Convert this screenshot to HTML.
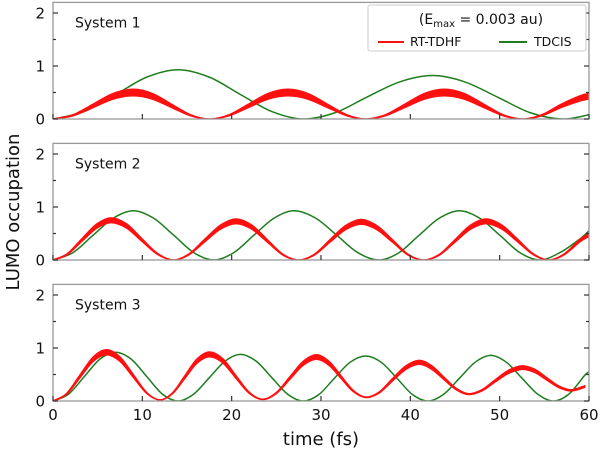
<!DOCTYPE html>
<html><head><meta charset="utf-8"><style>
html,body{margin:0;padding:0;background:#fff;}
svg{display:block;font-family:"DejaVu Sans","Liberation Sans",sans-serif;}
</style></head><body>
<svg id="chart" width="600" height="458" viewBox="0 0 600 458" xmlns="http://www.w3.org/2000/svg">
<text x="0" y="0" transform="translate(19,212) rotate(-90)" text-anchor="middle" font-size="18" fill="#111">LUMO occupation</text>
<text x="321" y="445" text-anchor="middle" font-size="18" fill="#111">time (fs)</text>
</svg>
<script>
// ---- data ----
const xTicks = [0,10,20,30,40,50,60];
const yTicks = [0,1,2];
const yMinorTicks = [0.5,1.5];
const panelLabels = ["System 1","System 2","System 3"];

const g1t = [0,3.5,7,10.5,14,17.5,21,24.5,28,31.6,35.1,38.8,42.5,46.1,49.8,53.4,57,60];
const g1v = [0,.14,.46,.79,.93,.79,.46,.14,0,.12,.41,.70,.82,.70,.41,.12,0,.08];
const r1t = [0,2.25,4.5,6.75,9,11.1,13.25,15.4,17.5,19.7,21.9,24.1,26.3,28.5,30.7,32.9,35,37.2,39.4,41.6,43.8,46,48.2,50.4,52.5,54.7,56.9,59,60];
const r1v = [0,.07,.25,.43,.5,.43,.25,.07,0,.07,.25,.43,.5,.43,.25,.07,0,.07,.25,.43,.5,.43,.25,.07,0,.07,.25,.39,.43];

const g2t = [0,2.25,4.5,6.75,9,11.25,13.5,15.75,18,20.25,22.5,24.75,27,29.4,31.75,34.1,36.5,38.75,41,43.25,45.5,47.75,50,52.25,54.5,56.75,59,60];
const g2v = [0,.14,.47,.79,.93,.79,.47,.14,0,.14,.47,.79,.93,.79,.47,.14,0,.14,.47,.79,.93,.79,.47,.14,0,.14,.40,.55];
const r2t = [0,1.6,3.25,4.9,6.5,8.25,10,11.75,13.5,15.25,17,18.75,20.5,22.25,24,25.75,27.5,29.25,31,32.75,34.5,36.25,38,39.75,41.5,43.25,45,46.75,48.5,50.25,52,53.75,55.5,57.25,59,60];
const r2v = [0,.11,.38,.64,.75,.64,.37,.11,0,.11,.37,.62,.73,.62,.36,.1,0,.1,.36,.61,.72,.61,.36,.1,0,.1,.36,.62,.73,.62,.37,.11,0,.11,.37,.47];

const g3t = [0,1.75,3.5,5.25,7,8.75,10.5,12.25,14,15.75,17.5,19.25,21,22.75,24.5,26.25,28,29.75,31.5,33.25,35,36.75,38.5,40.25,42,43.75,45.5,47.25,49,50.75,52.5,54.25,56,57.75,59.5,60];
const g3v = [0,.13,.46,.79,.92,.79,.46,.13,0,.13,.44,.75,.88,.75,.44,.13,0,.12,.43,.73,.85,.73,.43,.12,0,.13,.43,.73,.86,.73,.43,.13,0,.13,.48,.55];
const r3t = [0,1.5,3,4.5,6,7.5,9,10.5,12,13.4,14.75,16.1,17.5,19,20.5,22,23.5,25,26.5,28,29.5,30.9,32.25,33.6,35,36.5,38,39.5,41,42.4,43.75,45.1,46.5,48,49.5,51,52.5,53.9,55.25,56.6,58,59.5];
const r3v = [0,.13,.46,.79,.92,.79,.47,.15,.02,.15,.45,.75,.88,.76,.45,.15,.03,.15,.43,.71,.83,.71,.45,.19,.07,.16,.40,.63,.73,.63,.43,.23,.13,.20,.38,.55,.63,.57,.42,.27,.2,.27];

// ---- layout ----
const svg = document.getElementById('chart');
const NS = "http://www.w3.org/2000/svg";
const X0=53, X1=589, XMAX=60, YMAX=2.2, PX_PER=53;
const panels = [
  {bottom:119, g:[g1t,g1v], r:[r1t,r1v], band:0.12},
  {bottom:260, g:[g2t,g2v], r:[r2t,r2v], band:0.06},
  {bottom:401, g:[g3t,g3v], r:[r3t,r3v], band:0.05}
];
function xs(t){return X0+(X1-X0)*t/XMAX;}
function mk(tag,attrs,parent){const e=document.createElementNS(NS,tag);for(const k in attrs)e.setAttribute(k,attrs[k]);(parent||svg).appendChild(e);return e;}
function curve(pts){
  let d="M"+pts[0][0].toFixed(2)+","+pts[0][1].toFixed(2);
  for(let i=0;i<pts.length-1;i++){
    const p0=pts[Math.max(0,i-1)],p1=pts[i],p2=pts[i+1],p3=pts[Math.min(pts.length-1,i+2)];
    const c1x=p1[0]+(p2[0]-p0[0])/6,c1y=p1[1]+(p2[1]-p0[1])/6;
    const c2x=p2[0]-(p3[0]-p1[0])/6,c2y=p2[1]-(p3[1]-p1[1])/6;
    d+="C"+c1x.toFixed(2)+","+c1y.toFixed(2)+" "+c2x.toFixed(2)+","+c2y.toFixed(2)+" "+p2[0].toFixed(2)+","+p2[1].toFixed(2);
  }
  return d;
}
panels.forEach((p,i)=>{
  const ys=v=>p.bottom-v*PX_PER;
  const top=ys(YMAX);
  const grp=mk('g',{});
  
  
  const clipId='clip'+i;
  const cp=mk('clipPath',{id:clipId},grp);
  mk('rect',{x:X0,y:top,width:X1-X0,height:p.bottom-top},cp);
  const gp=mk('path',{d:curve(p.g[0].map((t,k)=>[xs(t),ys(p.g[1][k])])),fill:'none',stroke:'#1e7d1e','stroke-width':1.5,'clip-path':'url(#'+clipId+')'},grp);
  
  
  const up=p.r[0].map((t,k)=>[xs(t),ys(p.r[1][k]*(1+p.band))]);
  const lo=p.r[0].map((t,k)=>[xs(t),ys(p.r[1][k]*(1-p.band))]);
  const rb=mk('path',{d:curve(up)+"L"+curve(lo.slice().reverse()).slice(1)+"Z",fill:'#ff1010',stroke:'#ff1010','stroke-width':1.6,'clip-path':'url(#'+clipId+')'},grp);
  
  
  const fr=mk('rect',{x:X0,y:top,width:X1-X0,height:p.bottom-top,fill:'none',stroke:'#999','stroke-width':1.3},grp);
  
  
  xTicks.forEach(t=>{
    const tk=mk('line',{x1:xs(t),x2:xs(t),y1:p.bottom,y2:p.bottom-5,stroke:'#333','stroke-width':1.2},grp);
    
    
    if(i===2){
      const tl=mk('text',{x:xs(t),y:p.bottom+19,'text-anchor':'middle','font-size':15,fill:'#111'},grp);
      
      
      tl.textContent=t;
    }
  });
  yTicks.concat(yMinorTicks).forEach(v=>{
    const major=yTicks.includes(v);
    const L=major?5:3;
    const a=mk('line',{x1:X0,x2:X0+L,y1:ys(v),y2:ys(v),stroke:'#333','stroke-width':1.2},grp);
    
    
    const b=mk('line',{x1:X1,x2:X1-L,y1:ys(v),y2:ys(v),stroke:'#333','stroke-width':1.2},grp);
    
    
    if(major){
      const tl=mk('text',{x:X0-8,y:ys(v)+5.5,'text-anchor':'end','font-size':15,fill:'#111'},grp);
      
      
      tl.textContent=v;
    }
  });
  const lb=mk('text',{x:75,y:top+25,'font-size':14,fill:'#111'},grp);
  
  
  lb.textContent=panelLabels[i];
});
const lg=mk('g',{});


mk('rect',{x:368,y:5,width:218,height:46,fill:'#fff',stroke:'#ccc','stroke-width':1,rx:2},lg);
const lt=mk('text',{x:481,y:24,'text-anchor':'middle','font-size':14,fill:'#111'},lg);


lt.innerHTML='(E<tspan font-size="10" dy="3">max</tspan><tspan dy="-3"> = 0.003 au)</tspan>';
const l1=mk('line',{x1:378,x2:404,y1:42,y2:42,stroke:'#ff1010','stroke-width':2},lg);


const t1=mk('text',{x:410,y:46,'font-size':12.5,fill:'#111'},lg);


t1.textContent='RT-TDHF';
const l2=mk('line',{x1:499,x2:527,y1:42,y2:42,stroke:'#1e7d1e','stroke-width':2},lg);


const t2=mk('text',{x:534,y:46,'font-size':12.5,fill:'#111'},lg);


t2.textContent='TDCIS';
</script>
</body></html>
